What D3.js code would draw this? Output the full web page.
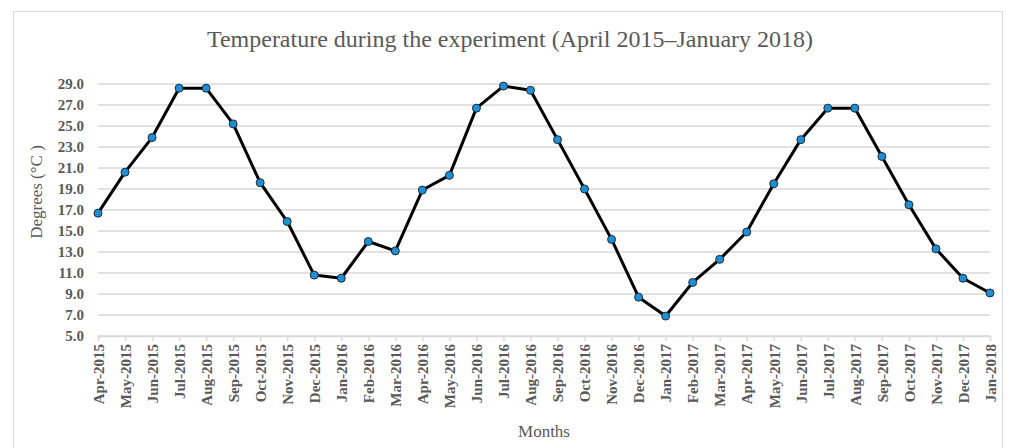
<!DOCTYPE html>
<html>
<head>
<meta charset="utf-8">
<script src="https://cdn.jsdelivr.net/npm/d3@7"></script>
<style>
    body { margin: 0; background: #fff; }
    svg text { font-family: "Liberation Serif", "DejaVu Serif", serif; fill: #595959; }
</style>
</head>
<body>
<div id="chart"></div>
<script>
const months = [
    "Apr-2015", "May-2015", "Jun-2015", "Jul-2015", "Aug-2015", "Sep-2015",
    "Oct-2015", "Nov-2015", "Dec-2015", "Jan-2016", "Feb-2016", "Mar-2016",
    "Apr-2016", "May-2016", "Jun-2016", "Jul-2016", "Aug-2016", "Sep-2016",
    "Oct-2016", "Nov-2016", "Dec-2016", "Jan-2017", "Feb-2017", "Mar-2017",
    "Apr-2017", "May-2017", "Jun-2017", "Jul-2017", "Aug-2017", "Sep-2017",
    "Oct-2017", "Nov-2017", "Dec-2017", "Jan-2018"
];
const temperatures = [
    16.7, 20.6, 23.9, 28.6, 28.6, 25.2,
    19.6, 15.9, 10.8, 10.5, 14.0, 13.1,
    18.9, 20.3, 26.7, 28.8, 28.4, 23.7,
    19.0, 14.2, 8.7, 6.9, 10.1, 12.3,
    14.9, 19.5, 23.7, 26.7, 26.7, 22.1,
    17.5, 13.3, 10.5, 9.1
];
const yTicks = [5, 7, 9, 11, 13, 15, 17, 19, 21, 23, 25, 27, 29];

const width = 1009, height = 448;
const margin = { top: 84, right: 19, bottom: 112, left: 98 };

const svg = d3.select("#chart")
    .append("svg")
    .attr("width", width)
    .attr("height", height);

// outer frame
svg.append("rect")
    .attr("x", 13.5).attr("y", 11.5)
    .attr("width", 989).attr("height", 460)
    .attr("fill", "none")
    .attr("stroke", "#d9d9d9")
    .attr("stroke-width", 1);

const x = d3.scalePoint()
    .domain(months)
    .range([margin.left, width - margin.right]);

const y = d3.scaleLinear()
    .domain([5, 29])
    .range([height - margin.bottom, margin.top]);

// gridlines
svg.append("g")
    .selectAll("line")
    .data(yTicks)
    .enter()
    .append("line")
    .attr("x1", margin.left)
    .attr("x2", width - margin.right)
    .attr("y1", d => y(d))
    .attr("y2", d => y(d))
    .attr("stroke", "#d9d9d9")
    .attr("stroke-width", 1.5);

// y axis labels
const yAxis = svg.append("g")
    .attr("transform", `translate(${margin.left},0)`)
    .call(d3.axisLeft(y).tickValues(yTicks).tickFormat(d3.format(".1f")).tickSize(0).tickPadding(14));
yAxis.select(".domain").remove();
yAxis.selectAll("text")
    .attr("font-size", 15)
    .attr("font-weight", "bold")
    .style("font-family", "'Liberation Serif', serif");

// x axis
const xAxis = svg.append("g")
    .attr("transform", `translate(0,${height - margin.bottom})`)
    .call(d3.axisBottom(x).tickSize(5).tickPadding(4));
xAxis.select(".domain").attr("stroke", "#d9d9d9").attr("stroke-width", 1.5);
xAxis.selectAll(".tick line").attr("stroke", "#d9d9d9").attr("stroke-width", 1.5);
xAxis.selectAll("text")
    .attr("font-size", 15)
    .attr("font-weight", "bold")
    .style("font-family", "'Liberation Serif', serif")
    .attr("text-anchor", "end")
    .attr("transform", "rotate(-90)")
    .attr("x", -8)
    .attr("y", 0)
    .attr("dy", "0.35em");

// line
const line = d3.line()
    .x((d, i) => x(months[i]))
    .y(d => y(d));

svg.append("path")
    .datum(temperatures)
    .attr("d", line)
    .attr("fill", "none")
    .attr("stroke", "#000")
    .attr("stroke-width", 3)
    .attr("stroke-linejoin", "round");

svg.append("g")
    .selectAll("circle")
    .data(temperatures)
    .enter()
    .append("circle")
    .attr("cx", (d, i) => x(months[i]))
    .attr("cy", d => y(d))
    .attr("r", 4)
    .attr("fill", "#1f8fd4")
    .attr("stroke", "#1a2a3a")
    .attr("stroke-width", 1);

// titles
svg.append("text")
    .attr("x", 510)
    .attr("y", 47)
    .attr("text-anchor", "middle")
    .attr("font-size", 24)
    .text("Temperature during the experiment (April 2015–January 2018)");

svg.append("text")
    .attr("transform", `translate(42,192) rotate(-90)`)
    .attr("text-anchor", "middle")
    .attr("font-size", 17)
    .text("Degrees (°C )");

svg.append("text")
    .attr("x", 544)
    .attr("y", 437)
    .attr("text-anchor", "middle")
    .attr("font-size", 17)
    .text("Months");
</script>
</body>
</html>
